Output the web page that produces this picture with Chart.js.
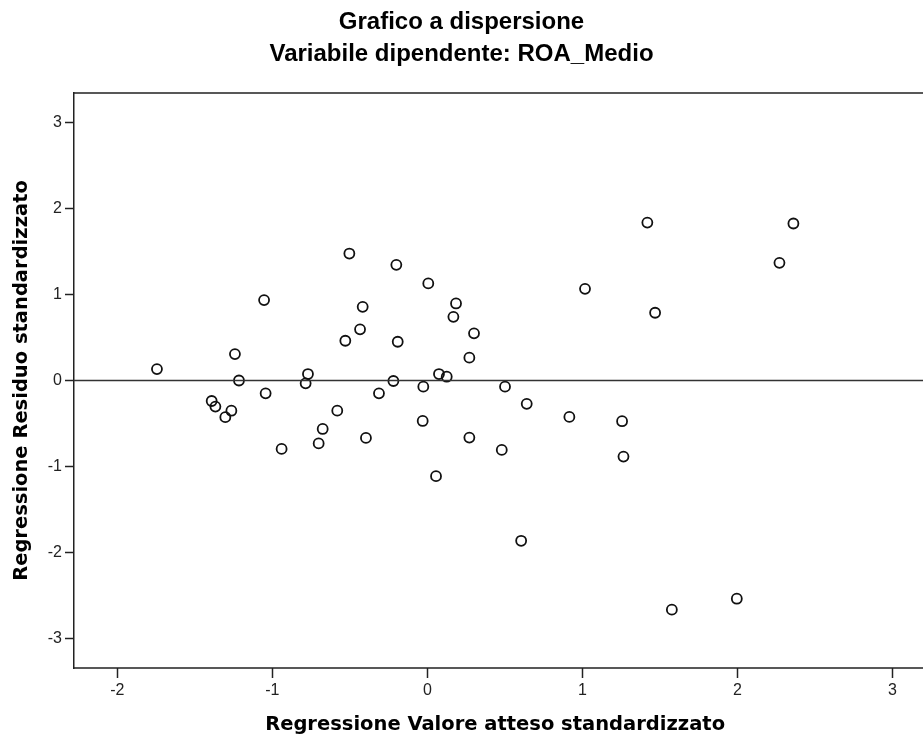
<!DOCTYPE html>
<html>
<head>
<meta charset="utf-8">
<script src="https://cdn.jsdelivr.net/npm/chart.js@4.4.1/dist/chart.umd.min.js"></script>
<style>
html,body{margin:0;padding:0;background:#fff;overflow:hidden}
#wrap{width:923px;height:735px;position:relative}
</style>
</head>
<body>
<div id="wrap"><canvas id="myChart"></canvas></div>
<script>
// valore atteso standardizzato (x) e residuo standardizzato (y)
var xValues = [-1.744,-1.053,-1.241,-1.215,-1.391,-1.367,-1.303,-1.264,-1.043,-0.940,
  -0.770,-0.785,-0.675,-0.701,-0.581,-0.503,-0.529,-0.417,-0.434,-0.396,
  -0.219,-0.200,0.006,0.185,0.168,-0.191,0.301,0.271,0.075,0.125,
  -0.026,-0.312,0.501,0.641,-0.030,0.271,0.480,0.056,0.605,0.916,
  1.017,1.256,1.265,1.419,1.469,2.271,2.361,1.577,1.996];
var yValues = [0.133,0.934,0.307,0.000,-0.238,-0.303,-0.426,-0.351,-0.149,-0.795,
  0.075,-0.033,-0.563,-0.731,-0.350,1.475,0.462,0.856,0.594,-0.667,
  -0.006,1.344,1.128,0.895,0.740,0.450,0.548,0.265,0.075,0.044,
  -0.072,-0.149,-0.072,-0.271,-0.470,-0.663,-0.806,-1.111,-1.862,-0.423,
  1.065,-0.473,-0.884,1.835,0.787,1.367,1.824,-2.662,-2.535];
var xTicks = [-2,-1,0,1,2,3];
var yTicks = [-3,-2,-1,0,1,2,3];
var refLine = 0;

var pts = [];
for (var i = 0; i < xValues.length; i++) {
  pts.push({x: xValues[i], y: yValues[i]});
}

// linea dello zero e bordi superiore/inferiore fino al margine destro
var boxPlugin = {
  id: 'boxPlugin',
  afterDatasetsDraw: function(chart) {
    var ctx = chart.ctx, a = chart.chartArea;
    var y0 = chart.scales.y.getPixelForValue(refLine);
    ctx.save();
    ctx.strokeStyle = '#333';
    ctx.lineWidth = 1.5;
    ctx.beginPath();
    ctx.moveTo(a.left, y0);
    ctx.lineTo(chart.width, y0);
    ctx.stroke();
    ctx.strokeStyle = '#222';
    ctx.beginPath();
    ctx.moveTo(a.left - 0.75, a.top);
    ctx.lineTo(chart.width, a.top);
    ctx.moveTo(a.left - 0.75, a.bottom);
    ctx.lineTo(chart.width, a.bottom);
    ctx.stroke();
    ctx.restore();
  }
};

var tickFont = {family: "'Liberation Sans', Arial, sans-serif", size: 16};
var axTitleFont = {family: "'DejaVu Sans', Verdana, sans-serif", size: 19.5, weight: 'bold', lineHeight: 1.0};
var titleFont = {family: "'Liberation Sans', Arial, sans-serif", size: 24, weight: 'bold', lineHeight: 1.2};

new Chart("myChart", {
  type: "scatter",
  data: {
    datasets: [{
      data: pts,
      pointRadius: 5,
      pointBorderWidth: 1.8,
      borderColor: "#111",
      backgroundColor: "rgba(0,0,0,0)"
    }]
  },
  options: {
    responsive: true,
    maintainAspectRatio: false,
    animation: false,
    events: [],
    layout: {padding: 0},
    plugins: {
      legend: {display: false},
      tooltip: {enabled: false},
      title: {
        display: true,
        text: "Grafico a dispersione",
        color: "#000",
        font: titleFont,
        padding: {top: 7.6, bottom: 0}
      },
      subtitle: {
        display: true,
        text: "Variabile dipendente: ROA_Medio",
        color: "#000",
        font: titleFont,
        padding: {top: 3.2, bottom: 24.6}
      }
    },
    scales: {
      x: {
        type: 'linear',
        min: -2.279,
        max: 3.153,
        afterBuildTicks: function(s) { s.ticks = xTicks.map(function(v){ return {value: v}; }); },
        afterFit: function(s) { s.height = 67; },
        grid: {display: true, drawOnChartArea: false, tickLength: 10, tickWidth: 1.5, tickColor: '#222'},
        border: {display: false},
        ticks: {color: '#222', font: tickFont, padding: 3, maxRotation: 0},
        title: {display: true, text: "Regressione Valore atteso standardizzato", color: '#000', font: axTitleFont, padding: {top: 0, bottom: 0}}
      },
      y: {
        type: 'linear',
        min: -3.34,
        max: 3.34,
        afterBuildTicks: function(s) { s.ticks = yTicks.map(function(v){ return {value: v}; }); },
        afterFit: function(s) { s.width = 74; },
        grid: {display: true, drawOnChartArea: false, tickLength: 9, tickWidth: 1.5, tickColor: '#222'},
        border: {display: true, color: '#222', width: 1.5},
        ticks: {color: '#222', font: tickFont, padding: 3},
        title: {display: true, text: "Regressione Residuo standardizzato", color: '#000', font: axTitleFont, padding: {top: 12, bottom: 0}}
      }
    }
  },
  plugins: [boxPlugin]
});
</script>
</body>
</html>
